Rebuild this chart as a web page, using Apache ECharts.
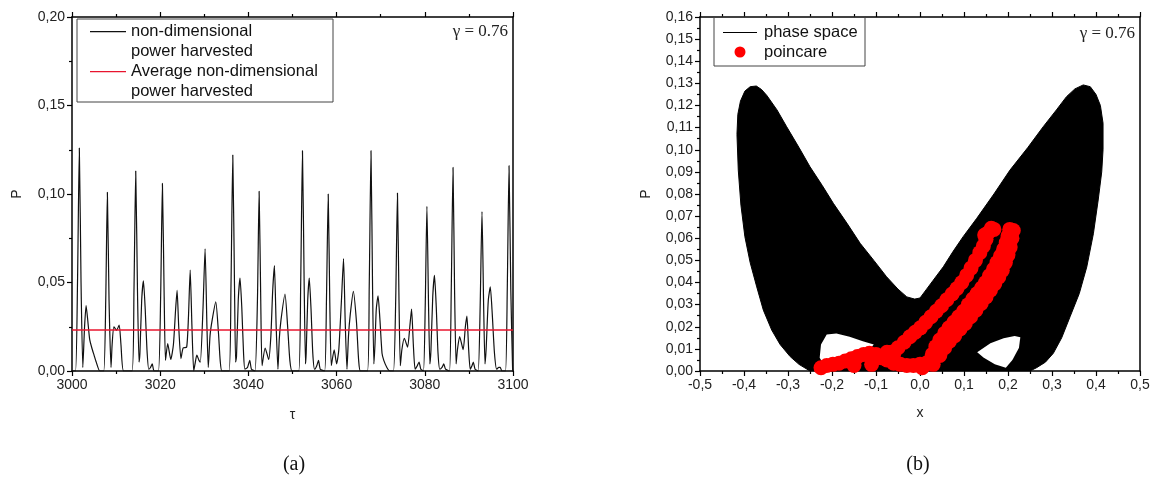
<!DOCTYPE html>
<html><head><meta charset="utf-8">
<script src="https://cdn.jsdelivr.net/npm/echarts@6/dist/echarts.min.js"></script>
<style>html,body{margin:0;padding:0;background:#fff}#c{width:1155px;height:487px}</style>
</head><body><div id="c"></div><script>
// ---------- panel (a): time series ----------
const tauRange = [3000, 3100];
const powerRange = [0, 0.20];
const powerTrace = [
[3000.0,0.000],[3000.8,0.000],[3001.25,0.050],[3001.66,0.126],[3002.05,0.050],[3002.45,0.002],[3002.85,0.025],[3003.2,0.037],[3003.6,0.028],[3004.0,0.018],[3004.5,0.013],[3005.0,0.009],[3005.5,0.005],[3006.3,0.000],
[3007.2,0.000],[3007.65,0.040],[3008.02,0.101],[3008.4,0.040],[3008.85,0.002],[3009.1,0.015],[3009.5,0.025],[3010.1,0.023],[3010.7,0.026],[3011.1,0.015],[3011.7,0.000],
[3013.6,0.000],[3014.05,0.045],[3014.45,0.113],[3014.85,0.045],[3015.2,0.005],[3015.4,0.010],[3015.8,0.040],[3016.2,0.051],[3016.6,0.035],[3017.0,0.012],[3017.4,0.001],[3017.8,0.002],[3018.2,0.004],[3018.6,0.000],
[3019.6,0.000],[3020.1,0.042],[3020.5,0.106],[3020.9,0.042],[3021.2,0.006],[3021.7,0.0155],[3022.4,0.0065],[3023.0,0.015],[3023.5,0.035],[3023.83,0.0455],[3024.2,0.025],[3024.7,0.007],[3025.2,0.013],[3026.0,0.0135],[3026.4,0.030],[3026.8,0.057],[3027.2,0.025],[3027.6,0.000],
[3027.9,0.004],[3028.3,0.009],[3028.8,0.006],[3029.1,0.005],[3029.7,0.035],[3030.18,0.069],[3030.6,0.025],[3030.9,0.002],[3031.3,0.020],[3031.8,0.029],[3032.6,0.039],[3033.2,0.022],[3033.6,0.006],[3034.0,0.000],
[3035.6,0.000],[3036.05,0.048],[3036.46,0.122],[3036.85,0.048],[3037.1,0.005],[3037.3,0.008],[3037.7,0.040],[3038.1,0.0525],[3038.5,0.036],[3038.9,0.010],[3039.2,0.001],[3039.8,0.002],[3040.3,0.006],[3040.7,0.001],
[3041.5,0.000],[3042.05,0.040],[3042.43,0.1015],[3042.8,0.040],[3043.1,0.003],[3043.8,0.013],[3044.6,0.0065],[3045.1,0.020],[3045.5,0.045],[3045.9,0.0595],[3046.3,0.025],[3046.7,0.001],[3047.0,0.018],[3047.4,0.029],[3048.3,0.0435],[3048.9,0.025],[3049.4,0.006],[3049.9,0.000],
[3051.4,0.000],[3051.85,0.048],[3052.26,0.1245],[3052.65,0.048],[3052.95,0.004],[3053.1,0.010],[3053.45,0.040],[3053.8,0.0525],[3054.2,0.035],[3054.6,0.010],[3055.0,0.001],[3055.5,0.003],[3055.9,0.006],[3056.3,0.001],
[3057.3,0.000],[3057.7,0.040],[3058.1,0.100],[3058.45,0.040],[3058.8,0.003],[3059.45,0.012],[3060.0,0.004],[3060.5,0.012],[3061.1,0.040],[3061.57,0.0635],[3061.95,0.028],[3062.35,0.001],[3062.7,0.020],[3063.1,0.032],[3063.8,0.045],[3064.5,0.028],[3065.0,0.006],[3065.4,0.000],
[3067.0,0.000],[3067.4,0.048],[3067.8,0.1245],[3068.15,0.048],[3068.45,0.004],[3068.7,0.015],[3069.0,0.035],[3069.4,0.0425],[3069.8,0.030],[3070.3,0.010],[3070.7,0.006],[3071.4,0.002],[3072.1,0.000],
[3072.9,0.000],[3073.4,0.040],[3073.8,0.1005],[3074.15,0.040],[3074.45,0.003],[3074.8,0.012],[3075.35,0.0185],[3076.1,0.0135],[3076.6,0.025],[3077.0,0.035],[3077.4,0.015],[3077.8,0.001],[3078.3,0.003],[3078.7,0.005],[3079.1,0.001],
[3079.7,0.000],[3080.1,0.037],[3080.48,0.093],[3080.85,0.037],[3081.15,0.004],[3081.4,0.012],[3081.8,0.042],[3082.2,0.054],[3082.6,0.036],[3083.0,0.010],[3083.4,0.001],[3083.9,0.002],[3084.3,0.004],[3084.7,0.001],
[3085.6,0.000],[3086.0,0.046],[3086.4,0.115],[3086.75,0.046],[3087.1,0.004],[3087.4,0.012],[3087.9,0.0195],[3088.7,0.012],[3089.2,0.025],[3089.55,0.031],[3089.95,0.012],[3090.3,0.001],[3090.7,0.003],[3091.0,0.005],[3091.4,0.001],
[3092.1,0.000],[3092.55,0.036],[3092.97,0.090],[3093.35,0.036],[3093.65,0.004],[3093.9,0.012],[3094.4,0.040],[3094.85,0.0475],[3095.3,0.032],[3095.8,0.010],[3096.3,0.001],[3096.8,0.002],[3097.1,0.002],[3097.5,0.000],
[3098.3,0.000],[3098.7,0.046],[3099.1,0.116],[3099.5,0.046],[3099.9,0.002],[3100.0,0.000]
];
const averagePowerLine = [[3000, 0.0232], [3100, 0.0232]];

// ---------- panel (b): phase space ----------
const xRange = [-0.5, 0.5];
const pRange = [0, 0.16];
const phaseOutline = [
[-0.250,0.0000],[-0.275,0.0030],[-0.295,0.0065],[-0.318,0.0120],[-0.337,0.0185],[-0.356,0.0275],[-0.371,0.0380],[-0.386,0.0490],[-0.398,0.0607],[-0.407,0.0750],[-0.413,0.0908],[-0.416,0.1070],[-0.414,0.1160],[-0.408,0.1220],[-0.398,0.1265],[-0.386,0.1285],[-0.372,0.1288],[-0.360,0.1272],[-0.348,0.1245],[-0.325,0.1180],[-0.303,0.1104],[-0.275,0.1010],[-0.250,0.0923],[-0.222,0.0838],[-0.197,0.0758],[-0.165,0.0665],[-0.136,0.0577],[-0.105,0.0500],[-0.076,0.0426],[-0.050,0.0370],[-0.030,0.0335],[-0.012,0.0325],[0.000,0.0330],
[0.015,0.0370],[0.030,0.0410],[0.053,0.0471],[0.075,0.0540],[0.098,0.0607],[0.129,0.0690],[0.168,0.0800],[0.2045,0.0908],[0.245,0.1010],[0.280,0.1104],[0.310,0.1180],[0.333,0.1240],[0.352,0.1275],[0.371,0.1293],[0.387,0.1285],[0.400,0.1250],[0.410,0.1200],[0.416,0.1120],[0.416,0.1000],[0.413,0.0900],[0.405,0.0773],[0.394,0.0620],[0.379,0.0470],[0.362,0.0350],[0.341,0.0245],[0.322,0.0150],[0.303,0.0080],[0.285,0.0040],[0.265,0.0015],[0.250,0.0000],[-0.250,0.0000]
];
const leftHole = [[-0.228,0.0060],[-0.225,0.0120],[-0.212,0.0165],[-0.190,0.0170],[-0.160,0.0155],[-0.130,0.0135],[-0.105,0.0120],[-0.120,0.0085],[-0.160,0.0060],[-0.200,0.0040],[-0.222,0.0040]];
const rightHole = [[0.130,0.0085],[0.160,0.0125],[0.190,0.0148],[0.215,0.0158],[0.228,0.0152],[0.225,0.0105],[0.210,0.0050],[0.195,0.0015],[0.170,0.0030],[0.145,0.0060]];
const poincareBottom = [[-0.225,0.0015],[-0.212,0.0025],[-0.198,0.0030],[-0.184,0.0035],[-0.170,0.0045],[-0.156,0.0055],[-0.142,0.0065],[-0.128,0.0075],[-0.115,0.0080],[-0.100,0.0075],[-0.088,0.0060],[-0.075,0.0050],[-0.060,0.0035],[-0.045,0.0030],[-0.030,0.0025],[-0.015,0.0025],[-0.075,0.0085],[0.000,0.0030],[-0.150,0.0025],[-0.110,0.0030],[-0.060,0.0075]];
const poincareBandA = [[-0.065,0.0085],[-0.050,0.0105],[-0.036,0.0130],[-0.023,0.0155],[-0.011,0.0175],[0.001,0.0195],[0.013,0.0220],[0.025,0.0245],[0.037,0.0270],[0.049,0.0295],[0.061,0.0322],[0.073,0.0348],[0.084,0.0373],[0.095,0.0400],[0.106,0.0432],[0.116,0.0465],[0.126,0.0500],[0.136,0.0535],[0.144,0.0565],[0.150,0.0595],[0.155,0.0625],[0.147,0.0615],[0.162,0.0645],[0.168,0.0640]];
const poincareBandB = [[0.005,0.0015],[0.018,0.0040],[0.028,0.0075],[0.036,0.0110],[0.045,0.0140],[0.056,0.0170],[0.066,0.0195],[0.077,0.0220],[0.088,0.0245],[0.099,0.0270],[0.110,0.0300],[0.120,0.0325],[0.130,0.0350],[0.140,0.0375],[0.149,0.0400],[0.158,0.0430],[0.167,0.0460],[0.175,0.0490],[0.183,0.0520],[0.190,0.0550],[0.196,0.0580],[0.200,0.0610],[0.204,0.0640]];
const poincareBandB2 = [[0.030,0.0030],[0.045,0.0070],[0.056,0.0105],[0.067,0.0135],[0.079,0.0160],[0.091,0.0190],[0.103,0.0215],[0.115,0.0245],[0.127,0.0275],[0.139,0.0305],[0.150,0.0335],[0.160,0.0365],[0.170,0.0395],[0.179,0.0425],[0.187,0.0455],[0.194,0.0490],[0.200,0.0525],[0.205,0.0560],[0.209,0.0600],[0.212,0.0635]];

const seriesNames = ['non-dimensional\npower harvested', 'Average non-dimensional\npower harvested', 'phase space', 'poincare'];
const gammaLabel = 'γ = 0.76';
const COLOR_TRACE = '#111';
const COLOR_AVG = '#e8142e';
const COLOR_POINCARE = '#f00';

const SANS = '"Liberation Sans", Arial, sans-serif';
const SERIF = '"Liberation Serif", "Times New Roman", serif';
const comma = d => v => v.toFixed(d).replace('.', ',');
const lineStyleAxis = {color: '#000', width: 1.5};
const tickStyle = {color: '#000', width: 1.2};
// legend icons drawn inside fixed boxes (tiny corner specks fix the box size)
const twoLineIcon = 'path://M0,0L0.05,0L0.05,0.05ZM0,10L36,10L36,11.2L0,11.2ZM35.95,39.95L36,40L35.95,40Z';
const lineIcon = 'path://M0,0L0.05,0L0.05,0.05ZM0,10L34,10L34,11L0,11ZM33.95,19.95L34,20L33.95,20Z';
const dotIcon = 'path://M0,0L0.05,0L0.05,0.05ZM11.5,10A5.5,5.5,0,1,0,22.5,10A5.5,5.5,0,1,0,11.5,10ZM33.95,19.95L34,20L33.95,20Z';

function bottomAxis(grid, min, max, interval, fmt, name, gap) {
  return {gridIndex: grid, type: 'value', position: 'bottom', min, max, interval,
    axisLine: {onZero: false, lineStyle: lineStyleAxis},
    axisTick: {length: 5, lineStyle: tickStyle},
    minorTick: {show: true, splitNumber: 2, length: 3, lineStyle: tickStyle},
    axisLabel: {margin: 7, color: '#222', fontSize: 14, fontFamily: SANS, formatter: fmt},
    splitLine: {show: false}, minorSplitLine: {show: false},
    name, nameLocation: 'middle', nameGap: gap,
    nameTextStyle: {color: '#222', fontSize: 14, fontFamily: SANS}};
}
function topAxis(grid, min, max, interval) {
  return {gridIndex: grid, type: 'value', position: 'top', min, max, interval,
    axisLine: {onZero: false, lineStyle: lineStyleAxis},
    axisTick: {length: 5, lineStyle: tickStyle},
    minorTick: {show: true, splitNumber: 2, length: 3, lineStyle: tickStyle},
    axisLabel: {show: false}, splitLine: {show: false}};
}
function leftAxis(grid, min, max, interval, fmt, gap) {
  return {gridIndex: grid, type: 'value', position: 'left', min, max, interval,
    axisLine: {onZero: false, lineStyle: lineStyleAxis},
    axisTick: {length: 5, lineStyle: tickStyle},
    minorTick: {show: true, splitNumber: 2, length: 3, lineStyle: tickStyle},
    axisLabel: {margin: 7, color: '#222', fontSize: 14, fontFamily: SANS, formatter: fmt},
    splitLine: {show: false},
    name: 'P', nameLocation: 'middle', nameGap: gap, nameRotate: 90,
    nameTextStyle: {color: '#222', fontSize: 14, fontFamily: SANS}};
}
function rightAxis(grid, min, max) {
  return {gridIndex: grid, type: 'value', position: 'right', min, max,
    axisLine: {onZero: false, lineStyle: lineStyleAxis},
    axisTick: {show: false}, axisLabel: {show: false}, splitLine: {show: false}};
}

const polygonRender = (pts, fill) => function (params, api) {
  return {type: 'polygon', shape: {points: pts.map(p => api.coord(p))}, style: {fill: fill}};
};
const legendText = {fontSize: 16.5, lineHeight: 20, color: '#111', fontFamily: SANS};

const chart = echarts.init(document.getElementById('c'), null, {renderer: 'canvas'});
chart.setOption({
  backgroundColor: '#fff',
  animation: false,
  grid: [
    {left: 72, top: 17, width: 441, height: 354},
    {left: 700, top: 17, width: 440, height: 354}
  ],
  xAxis: [
    bottomAxis(0, tauRange[0], tauRange[1], 20, v => String(v), 'τ', 37),
    topAxis(0, tauRange[0], tauRange[1], 20),
    bottomAxis(1, xRange[0], xRange[1], 0.1, comma(1), 'x', 35),
    topAxis(1, xRange[0], xRange[1], 0.1)
  ],
  yAxis: [
    leftAxis(0, powerRange[0], powerRange[1], 0.05, comma(2), 48),
    rightAxis(0, powerRange[0], powerRange[1]),
    leftAxis(1, pRange[0], pRange[1], 0.01, comma(2), 47),
    rightAxis(1, pRange[0], pRange[1])
  ],
  legend: [
    {data: [{name: seriesNames[0], icon: twoLineIcon, itemStyle: {color: COLOR_TRACE, borderWidth: 0}},
            {name: seriesNames[1], icon: twoLineIcon, itemStyle: {color: COLOR_AVG, borderWidth: 0}}],
     left: 90, top: 21, orient: 'vertical', padding: 0,
     itemWidth: 36, itemHeight: 40, itemGap: 0, selectedMode: false, textStyle: legendText},
    {data: [{name: seriesNames[2], icon: lineIcon, itemStyle: {color: '#000', borderWidth: 0}},
            {name: seriesNames[3], icon: dotIcon, itemStyle: {color: COLOR_POINCARE, borderWidth: 0}}],
     left: 723, top: 22, orient: 'vertical', padding: 0,
     itemWidth: 34, itemHeight: 20, itemGap: 0, selectedMode: false,
     textStyle: Object.assign({}, legendText, {padding: [0, 0, 0, 2]})}
  ],
  graphic: [
    {type: 'rect', shape: {x: 77, y: 19, width: 256, height: 83}, style: {fill: 'none', stroke: '#444', lineWidth: 1}, z: 10},
    {type: 'rect', shape: {x: 714, y: 17, width: 151, height: 49}, style: {fill: 'none', stroke: '#444', lineWidth: 1}, z: 10},
    {type: 'text', x: 508, y: 32, style: {text: gammaLabel, font: '17px ' + SERIF, fill: '#222', textAlign: 'right', textVerticalAlign: 'middle'}, z: 10},
    {type: 'text', x: 1135, y: 34, style: {text: gammaLabel, font: '17px ' + SERIF, fill: '#222', textAlign: 'right', textVerticalAlign: 'middle'}, z: 10},
    {type: 'text', x: 294, y: 465, style: {text: '(a)', font: '20px ' + SERIF, fill: '#111', textAlign: 'center', textVerticalAlign: 'middle'}},
    {type: 'text', x: 918, y: 465, style: {text: '(b)', font: '20px ' + SERIF, fill: '#111', textAlign: 'center', textVerticalAlign: 'middle'}}
  ],
  series: [
    {name: seriesNames[0], type: 'line', xAxisIndex: 0, yAxisIndex: 0, data: powerTrace, symbol: 'none',
     smooth: 0.2, color: COLOR_TRACE, lineStyle: {color: COLOR_TRACE, width: 1.2}, z: 3},
    {name: seriesNames[1], type: 'line', xAxisIndex: 0, yAxisIndex: 0, data: averagePowerLine, symbol: 'none',
     color: COLOR_AVG, itemStyle: {color: COLOR_AVG}, lineStyle: {color: COLOR_AVG, width: 1.5}, z: 4},
    {name: 'phaseFill', type: 'custom', xAxisIndex: 2, yAxisIndex: 2, data: [[0, 0]],
     renderItem: polygonRender(phaseOutline, '#000'), z: 2, silent: true},
    {name: 'holes', type: 'custom', xAxisIndex: 2, yAxisIndex: 2, data: [[0, 0], [0, 0]],
     renderItem: function (params, api) { return polygonRender(params.dataIndex === 0 ? leftHole : rightHole, '#fff')(params, api); }, z: 3, silent: true},
    {name: seriesNames[2], type: 'line', xAxisIndex: 2, yAxisIndex: 2, data: phaseOutline, symbol: 'none',
     color: '#000', lineStyle: {color: '#000', width: 1}, z: 3},
    {name: seriesNames[3], type: 'scatter', xAxisIndex: 2, yAxisIndex: 2,
     data: poincareBottom.concat(poincareBandA, poincareBandB, poincareBandB2),
     symbol: 'circle', symbolSize: 15, color: COLOR_POINCARE, itemStyle: {color: COLOR_POINCARE, opacity: 1}, z: 5}
  ]
});
</script></body></html>
